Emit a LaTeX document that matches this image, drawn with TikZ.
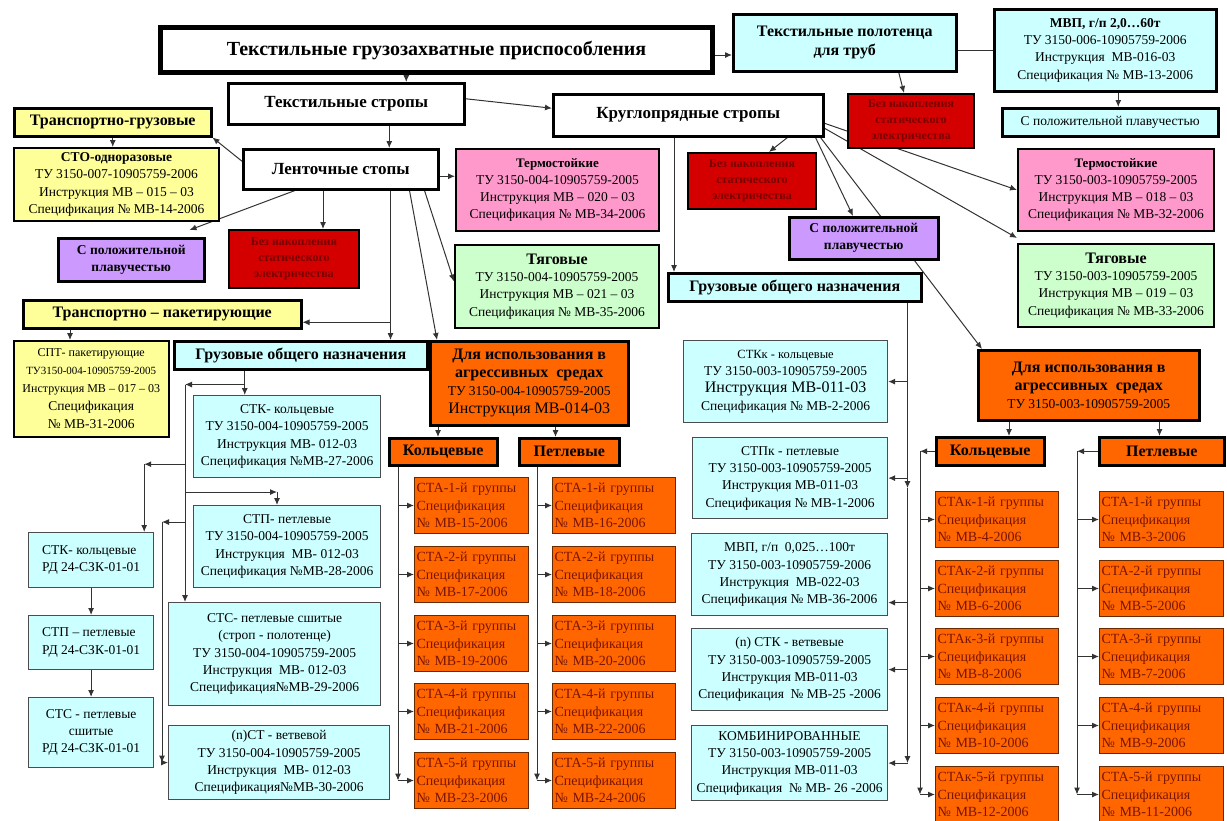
\documentclass[tikz,border=0pt]{standalone}
\usepackage{fontspec}
\setmainfont{Liberation Serif}
\usetikzlibrary{backgrounds,arrows.meta}
\definecolor{cyanbox}{HTML}{CCFFFF}
\definecolor{yellowbox}{HTML}{FFFF99}
\definecolor{pinkbox}{HTML}{FF99CC}
\definecolor{greenbox}{HTML}{CCFFCC}
\definecolor{violetbox}{HTML}{CC99FF}
\definecolor{redbox}{HTML}{D40000}
\definecolor{redtext}{HTML}{7A0000}
\definecolor{orangebox}{HTML}{FF6600}
\definecolor{statext}{HTML}{7A1500}
\newcommand\fsz[2]{\fontsize{#1}{#2}\selectfont}
\tikzset{
  wh/.style 2 args={minimum width=#1pt, minimum height=#2pt},
  box/.style={draw, anchor=north west, inner sep=1pt, align=center, font=\fsz{13.5}{17.3}},
  head/.style={box, line width=2.5pt, font=\bfseries\fsz{16}{19}},
  info/.style={box, line width=1.2pt, draw=black!70, fill=cyanbox},
  redb/.style={box, line width=2pt, fill=redbox, text=redtext, font=\bfseries\fsz{12}{16}},
  sta/.style={box, line width=1pt, draw=black!60!orangebox, fill=orangebox, text=statext,
    align=left, inner sep=2pt, minimum height=56pt, font=\fsz{14}{17.5}},
  arr/.style={-{Latex[length=7pt, width=6pt]}, line width=1pt, draw=black!80},
  ln/.style={line width=1pt, draw=black!80}
}
\begin{document}
\begin{tikzpicture}[x=1pt, y=-1pt]
    \useasboundingbox (0,0) rectangle (1227,820);
    % top level
    \node[head, line width=5pt, wh={552}{45}, font=\bfseries\fsz{20}{24}] (title) at (158,25) {Текстильные грузозахватные приспособления};
    \node[head, wh={236}{41}, font=\bfseries\fsz{17}{20}] (tstr) at (227,82) {Текстильные стропы};
    \node[head, fill=cyanbox, wh={223}{57}] (polot) at (732,13) {Текстильные полотенца\\для труб};
    \node[head, fill=cyanbox, wh={222}{82}, font=\fsz{13.5}{17.3}] (mvpt) at (993,8) {\textbf{МВП, г/п 2,0…60т}\\ТУ 3150-006-10905759-2006\\Инструкция~~МВ-016-03\\Спецификация №~МВ-13-2006};
    \node[head, fill=cyanbox, wh={216}{28}, font=\fsz{13.5}{17.3}] (plavt) at (1001,107) {С положительной плавучестью};
    \node[redb, wh={126}{54}] (redt) at (847,93) {Без накопления\\статического\\электричества};
    \node[head, wh={270}{42}, font=\bfseries\fsz{17}{20}] (krug) at (552,93) {Круглопрядные стропы};
    % ленточные
    \node[head, fill=yellowbox, wh={197}{28}] (trgr) at (13,107) {Транспортно-грузовые};
    \node[head, line width=2pt, fill=yellowbox, wh={205}{73}, font=\fsz{13.5}{17.3}] (sto) at (13,147) {\textbf{СТО-одноразовые}\\ТУ 3150-007-10905759-2006\\Инструкция МВ – 015 – 03\\Спецификация №~МВ-14-2006};
    \node[head, wh={195}{40}, font=\bfseries\fsz{17}{20}] (lent) at (242,148) {Ленточные стопы};
    \node[head, line width=2pt, fill=pinkbox, wh={203}{82}, font=\fsz{13.5}{17.3}] (terml) at (455,148) {\textbf{\fsz{13}{17.3}Термостойкие}\\ТУ 3150-004-10905759-2005\\Инструкция МВ – 020 – 03\\Спецификация №~МВ-34-2006};
    \node[head, fill=violetbox, wh={146}{43}, font=\bfseries\fsz{13.5}{17}] (plavl) at (57,237) {С положительной\\плавучестью};
    \node[redb, wh={130}{58}] (redl) at (228,229) {Без накопления\\статического\\электричества};
    \node[head, line width=2pt, fill=greenbox, wh={204}{83}, font=\fsz{13.5}{17.3}] (tyagl) at (454,244) {\textbf{\fsz{16}{17.3}Тяговые}\\ТУ 3150-004-10905759-2005\\Инструкция МВ – 021 – 03\\Спецификация №~МВ-35-2006};
    \node[head, fill=yellowbox, wh={278}{28}] (trpk) at (22,299) {Транспортно – пакетирующие};
    \node[head, line width=1.5pt, fill=yellowbox, wh={155}{96}, font=\fsz{13.5}{18}] (spt) at (13,340) {{\fsz{12}{17}СПТ- пакетирующие}\\{\fsz{11}{17}ТУ3150-004-10905759-2005}\\{\fsz{12}{17}Инструкция МВ – 017 – 03}\\Спецификация\\№~МВ-31-2006};
    \node[head, fill=cyanbox, wh={253}{28}] (grl) at (173,340) {Грузовые общего назначения};
    \node[head, fill=orangebox, wh={198}{84}, font=\fsz{13.5}{18}] (agrl) at (429,340) {\textbf{\fsz{16}{18}Для использования в}\\\textbf{\fsz{16}{18}агрессивных~~средах}\\ТУ 3150-004-10905759-2005\\{\fsz{16}{18}Инструкция МВ-014-03}};
    \node[head, fill=orangebox, wh={108}{27}] (koll) at (388,437) {Кольцевые};
    \node[head, fill=orangebox, wh={100}{27}] (petl) at (518,437) {Петлевые};
    \foreach \i/\top/\a/\b in {1/477/15/16, 2/546/17/18, 3/615/19/20, 4/683/21/22, 5/752/23/24} {
        \node[sta, text width=110pt] (kl\i) at (414,\top) {СТА-\i-й группы\\Спецификация\\№ МВ-\a-2006};
        \node[sta, text width=119pt] (pl\i) at (552,\top) {СТА-\i-й группы\\Спецификация\\№ МВ-\b-2006};
    }
    \node[info, wh={187}{82}] (stk) at (193,395) {СТК- кольцевые\\ТУ 3150-004-10905759-2005\\Инструкция МВ- 012-03\\Спецификация №МВ-27-2006};
    \node[info, wh={187}{82}] (stp) at (193,505) {СТП- петлевые\\ТУ 3150-004-10905759-2005\\Инструкция~~МВ- 012-03\\Спецификация №МВ-28-2006};
    \node[info, wh={212}{103}] (stc) at (168,602) {СТС- петлевые сшитые\\(строп - полотенце)\\ТУ 3150-004-10905759-2005\\Инструкция~~МВ- 012-03\\Спецификация№МВ-29-2006};
    \node[info, wh={221}{74}] (nst) at (168,725) {(n)СТ - ветвевой\\ТУ 3150-004-10905759-2005\\Инструкция~~МВ- 012-03\\Спецификация№МВ-30-2006};
    \node[info, wh={125}{55}, align=left] (rd1) at (28,532) {СТК- кольцевые\\РД 24-СЗК-01-01};
    \node[info, wh={125}{54}, align=left] (rd2) at (28,615) {СТП – петлевые\\РД 24-СЗК-01-01};
    \node[info, wh={125}{70}] (rd3) at (28,697) {СТС - петлевые\\сшитые\\РД 24-СЗК-01-01};
    % круглопрядные
    \node[redb, wh={128}{56}] (redm) at (687,152) {Без накопления\\статического\\электричества};
    \node[head, fill=violetbox, wh={149}{42}, font=\bfseries\fsz{13.5}{17}] (plavm) at (788,216) {С положительной\\плавучестью};
    \node[head, fill=cyanbox, wh={253}{28}] (grr) at (667,272) {Грузовые общего назначения};
    \node[head, line width=2pt, fill=pinkbox, wh={196}{82}, font=\fsz{13.5}{17.3}] (termr) at (1017,148) {\textbf{\fsz{13}{17.3}Термостойкие}\\ТУ 3150-003-10905759-2005\\Инструкция МВ – 018 – 03\\Спецификация №~МВ-32-2006};
    \node[head, line width=2pt, fill=greenbox, wh={196}{83}, font=\fsz{13.5}{17.3}] (tyagr) at (1017,243) {\textbf{\fsz{16}{17.3}Тяговые}\\ТУ 3150-003-10905759-2005\\Инструкция МВ – 019 – 03\\Спецификация №~МВ-33-2006};
    \node[head, fill=orangebox, wh={221}{70}, font=\fsz{13.5}{18}] (agrr) at (977,349) {\textbf{\fsz{16}{18}Для использования в}\\\textbf{\fsz{16}{18}агрессивных~~средах}\\ТУ 3150-003-10905759-2005};
    \node[head, fill=orangebox, wh={108}{28}] (kolr) at (935,436) {Кольцевые};
    \node[head, fill=orangebox, wh={125}{28}] (petr) at (1098,436) {Петлевые};
    \foreach \i/\top/\a/\b in {1/491/4/3, 2/560/6/5, 3/628/8/7, 4/697/10/9, 5/766/12/11} {
        \node[sta, text width=119pt] (kr\i) at (935,\top) {СТАк-\i-й группы\\Спецификация\\№ МВ-\a-2006};
        \node[sta, text width=120pt] (pr\i) at (1099,\top) {СТА-\i-й группы\\Спецификация\\№ МВ-\b-2006};
    }
    \node[info, wh={204}{82}] (stkk) at (683,340) {{\fsz{12.5}{17.3}СТКк - кольцевые}\\ТУ 3150-003-10905759-2005\\{\fsz{16}{17.3}Инструкция МВ-011-03}\\Спецификация №~МВ-2-2006};
    \node[info, wh={195}{81}] (stpk) at (692,437) {СТПк - петлевые\\ТУ 3150-003-10905759-2005\\Инструкция МВ-011-03\\Спецификация №~МВ-1-2006};
    \node[info, wh={196}{82}] (mvpk) at (691,533) {МВП, г/п~~0,025…100т\\ТУ 3150-003-10905759-2006\\Инструкция~~МВ-022-03\\Спецификация №~МВ-36-2006};
    \node[info, wh={196}{82}] (nstk) at (691,628) {(n) СТК - ветвевые\\ТУ 3150-003-10905759-2005\\Инструкция МВ-011-03\\Спецификация~~№~МВ-25 -2006};
    \node[info, wh={196}{75}] (komb) at (691,725) {КОМБИНИРОВАННЫЕ\\ТУ 3150-003-10905759-2005\\Инструкция МВ-011-03\\Спецификация~~№~МВ- 26 -2006};
    \begin{scope}[on background layer]
    % top level links
    \draw[arr] ([xshift=60pt]tstr.north |- title.south) -- ([xshift=60pt]tstr.north);
    \draw[arr] ([yshift=-5pt]title.east) -- ([yshift=-5pt]title.east -| polot.west);
    \draw[ln] (mvpt.west -| polot.east) -- (mvpt.west);
    \draw[arr] ([xshift=13pt]mvpt.south) -- ([xshift=13pt]mvpt.south |- plavt.north);
    \draw[arr] ([xshift=54pt]polot.south) -- ([xshift=-7pt]redt.north);
    \draw[arr] ([yshift=5pt]tstr.east) -- ([yshift=7pt]krug.west);
    \draw[arr] ([xshift=43pt]tstr.south) -- ([xshift=43pt]tstr.south |- lent.north);
    % ленточные
    \draw[arr] ([yshift=8pt]lent.west) -- (trgr.south east);
    \draw[arr] (trgr.south) -- (trgr.south |- sto.north);
    \draw[arr] ([yshift=-7pt]lent.east) -- ([yshift=-7pt]lent.east -| terml.west);
    \draw[arr] ([xshift=53pt]lent.south west) -- ([xshift=-16pt,yshift=7pt]plavl.north east);
    \draw[arr] ([xshift=81pt]lent.south west) -- ([xshift=81pt]lent.south west |- redl.north);
    \draw[arr] ([xshift=-15pt]lent.south east) -- ([yshift=5pt]tyagl.west);
    \draw[arr] ([xshift=-30pt]lent.south east) -- ([xshift=8pt]agrl.north west);
    \draw[arr] ([xshift=-49pt]lent.south east) -- ([xshift=-49pt]lent.south east |- grl.north);
    \draw[arr] ([xshift=-49pt,yshift=-8pt]lent.south east |- trpk.east) -- ([yshift=-8pt]trpk.east);
    \draw[arr] ([xshift=48pt]trpk.south west) -- ([xshift=48pt]trpk.south west |- spt.north);
    % грузовые, левая ветвь
    \draw[arr] ([xshift=-56pt]grl.south) -- ([xshift=-56pt]grl.south |- stk.north);
    \coordinate (ga) at ([xshift=-56pt,yshift=-14pt]grl.south);
    \coordinate (gb) at ([xshift=17pt]stc.north west |- ga);
    \coordinate (gc) at ([yshift=14pt]stk.south -| gb);
    \coordinate (gd) at ([yshift=13pt]stp.north -| gb);
    \coordinate (ge) at ([yshift=-17pt]stp.north -| gb);
    \draw[arr] (ga) -- (gb);
    \draw[arr] (gb) -- (gb |- stc.north);
    \draw[arr] (gc) -- ([xshift=-10pt]rd1.north east |- gc);
    \draw[arr] ([xshift=-10pt]rd1.north east |- gc) -- ([xshift=-10pt]rd1.north east);
    \draw[arr] (gd) -- ([xshift=84pt]stp.north west |- gd);
    \draw[arr] ([xshift=84pt]stp.north west |- gd) -- ([xshift=84pt]stp.north west);
    \draw[arr] (ge) -- ([xshift=-6pt]nst.west |- ge);
    \draw[arr] ([xshift=-6pt]nst.west |- ge) -- ([xshift=-6pt]nst.west);
    \draw[arr] ([xshift=-6pt]nst.west) -- (nst.west);
    \draw[arr] (rd1.south) -- (rd2.north);
    \draw[arr] (rd2.south) -- (rd3.north);
    % агрессивные, левая ветвь
    \draw[arr] ([xshift=9pt]agrl.south west) -- ([xshift=9pt]agrl.south west |- koll.north);
    \draw[arr] ([xshift=-74pt]agrl.south east) -- ([xshift=-74pt]agrl.south east |- petl.north);
    \draw[arr] ([xshift=10pt]koll.south west) -- ([xshift=10pt]koll.south west |- kl5.west);
    \draw[arr] ([xshift=19pt]petl.south west) -- ([xshift=19pt]petl.south west |- pl5.west);
    \foreach \i in {1,...,5} {
        \draw[arr] ([xshift=10pt]koll.south west |- kl\i.west) -- (kl\i.west);
        \draw[arr] ([xshift=19pt]petl.south west |- pl\i.west) -- (pl\i.west);
    }
    % круглопрядные
    \draw[arr] ([xshift=122pt]krug.south west) -- ([xshift=122pt]krug.south west |- grr.north);
    \draw[arr] ([xshift=-37pt]krug.south east) -- ([xshift=-48pt]redm.north east);
    \draw[arr] ([xshift=-9pt]krug.south east) -- ([xshift=65pt]plavm.north west);
    \draw[arr] ([xshift=-4pt]krug.south east) -- ([xshift=5pt]agrr.north west);
    \draw[arr] ([yshift=-8pt]krug.east) -- (termr.west);
    \draw[arr] ([yshift=-13pt]krug.east) -- ([yshift=5pt]tyagr.north west);
    % грузовые, правая ветвь
    \coordinate (gt) at ([xshift=-15pt]grr.south east);
    \draw[arr] (gt) -- ([yshift=-10pt]gt |- stpk.east);
    \draw[arr] ([yshift=-10pt]gt |- stpk.east) -- (gt |- komb.east);
    \draw[arr] (gt |- stkk.east) -- (stkk.east);
    \draw[arr] (gt |- stpk.east) -- (stpk.east);
    \draw[arr] ([yshift=-28pt]gt |- mvpk.east) -- ([yshift=-28pt]mvpk.east);
    \draw[arr] (gt |- nstk.east) -- (nstk.east);
    \draw[arr] (gt |- komb.east) -- (komb.east);
    % агрессивные, правая ветвь
    \draw[arr] ([xshift=32pt]agrr.south west) -- ([xshift=32pt]agrr.south west |- kolr.north);
    \draw[arr] ([xshift=-41pt]agrr.south east) -- ([xshift=-41pt]agrr.south east |- petr.north);
    \draw[arr] (kolr.west) -- ([xshift=-15pt]kolr.west);
    \draw[arr] (petr.west) -- ([xshift=-21pt]petr.west);
    \draw[arr] ([xshift=-15pt]kolr.west) -- ([xshift=-15pt]kolr.west |- kr5.west);
    \draw[arr] ([xshift=-21pt]petr.west) -- ([xshift=-21pt]petr.west |- pr5.west);
    \foreach \i in {1,...,5} {
        \draw[arr] ([xshift=-15pt]kolr.west |- kr\i.west) -- (kr\i.west);
        \draw[arr] ([xshift=-21pt]petr.west |- pr\i.west) -- (pr\i.west);
    }
    \end{scope}
\end{tikzpicture}
\end{document}
